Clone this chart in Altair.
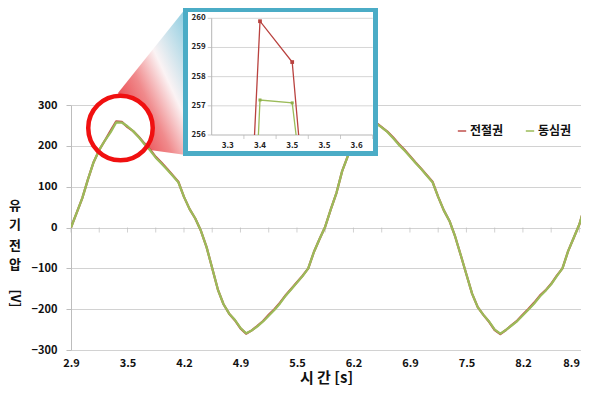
import altair as alt
import pandas as pd

FONT = "Noto Sans CJK KR"

# ---- data -----------------------------------------------------------------
# recording grid: 15 samples per second, first sample at 2.8667 s
t_start = 43 / 15
t_step = 1 / 15

# 동심권 (green) induced voltage [V]
v_green = [0, 36, 72, 118, 160, 190, 213, 233, 257.2, 257.1,
           248, 236, 221, 204, 189, 171, 157, 142, 127, 111,
           75, 45, 22, -8, -48, -100, -152, -188, -211, -226,
           -246, -259, -252, -242, -230, -216, -202, -186, -167, -151,
           -135, -119, -100, -60, -28, 2, 45, 85, 138, 175,
           200, 222, 240, 256, 255, 245, 234, 219, 203, 189,
           174, 158, 143, 127, 111, 75, 42, 16, -22, -68,
           -115, -162, -195, -214, -230, -250, -260, -251, -240, -229,
           -215, -201, -186, -169, -155, -139, -119, -100, -58, -25,
           8, 55, 95]

# 전절권 (red) induced voltage [V]
v_red = [0, 36, 72, 118, 160, 190, 213, 237, 259.9, 258.5,
         246, 236, 222, 206, 191, 173, 159, 144, 128, 112,
         75, 45, 22, -8, -48, -100, -152, -188, -211, -227,
         -247, -260, -252, -241, -229, -214, -200, -184, -166, -150,
         -134, -118, -100, -60, -28, 2, 45, 85, 138, 175,
         200, 222, 240, 258, 256.5, 246, 235, 221, 205, 191,
         175, 159, 144, 128, 112, 75, 42, 16, -22, -68,
         -115, -162, -195, -214, -231, -251, -261, -251, -239, -228,
         -213, -199, -184, -167, -154, -138, -118, -100, -58, -25,
         8, 55, 95]

series_names = ["전절권", "동심권"]
series_colors = ["#C0504D", "#9BBB59"]

y_ticks = [-300, -200, -100, 0, 100, 200, 300]
inset_y_ticks = [256, 257, 258, 259, 260]

n = len(v_green)
time_s = [t_start + k * t_step for k in range(n)]
label_t = time_s[0::10]
tick_t = time_s[0::5]

# inset window: categories 7..11 of the recording, values 256..260 V
inset_cat = time_s[7:12]
inset_lo = inset_cat[0] - t_step / 2
inset_hi = inset_cat[-1] + t_step / 2
inset_floor = 256


def clip_to_floor(t0, v0, t1, v1, floor):
    """Point where segment (t0,v0)-(t1,v1) leaves the inset window bottom."""
    f = (floor - v0) / (v1 - v0)
    return t0 + f * (t1 - t0)


def inset_polyline(v):
    ts = [clip_to_floor(time_s[7], v[7], time_s[8], v[8], inset_floor),
          time_s[8], time_s[9],
          clip_to_floor(time_s[9], v[9], time_s[10], v[10], inset_floor)]
    vs = [inset_floor, v[8], v[9], inset_floor]
    return pd.DataFrame({"ti": ts, "vi": vs})


# callout (circle + wedge) position in data units
circle_t = [t_start + 8.76 * t_step]
circle_v = [243.7]
wedge_t = [t_start + 8.32 * t_step, t_start + 13.98 * t_step, t_start + 20.36 * t_step]
wedge_top = [329.4, 427.3, 537.6]
wedge_bot = [329.4, 189.8, 177.6]

# ---- main chart -----------------------------------------------------------
PLOT_W = 510
xs = alt.Scale(domain=[t_start, t_start + (PLOT_W / 5.649) * t_step],
               nice=False, zero=False, padding=0)
ys = alt.Scale(domain=[-300, 300], nice=False, zero=False, padding=0)

last_label = label_t[-1]
xaxis = alt.Axis(values=label_t, format=".1f", title="시 간 [s]", grid=False,
                 ticks=False, domain=False, labelFlush=False, labelOverlap=False,
                 labelAlign={"expr": f"datum.value > {last_label - 0.01} ? 'right' : 'center'"},
                 labelPadding=7, labelFontSize=11, labelFontWeight="bold",
                 labelColor="#111", labelFont=FONT, titleFont=FONT,
                 titleFontSize=15, titleFontWeight="bold", titlePadding=2,
                 titleColor="#111")
yaxis = alt.Axis(values=y_ticks, title=None, grid=True, gridColor="#D2D2D2",
                 domainColor="#BDBDBD", tickColor="#BDBDBD", tickSize=5,
                 labelPadding=9, labelFontSize=11, labelFontWeight="bold",
                 labelColor="#111", labelFont=FONT)

X = alt.X("t:Q", scale=xs, axis=xaxis)
Y = alt.Y("v:Q", scale=ys, axis=yaxis)

color_scale = alt.Scale(domain=series_names, range=series_colors)
legend = alt.Legend(title=None, orient="none", legendX=385, legendY=20,
                    direction="horizontal", symbolType="stroke", symbolSize=70,
                    symbolStrokeWidth=1.5, labelFontSize=12, labelFontWeight="bold",
                    labelFont=FONT, labelColor="#111", columnPadding=18,
                    labelOffset=2, padding=0)

red_df = pd.DataFrame({"t": time_s, "v": v_red, "series": series_names[0]})
green_df = pd.DataFrame({"t": time_s, "v": v_green, "series": series_names[1]})

grad = alt.Gradient(
    gradient="linear",
    stops=[alt.GradientStop(color="#E5161F", offset=0),
           alt.GradientStop(color="#F08A8C", offset=0.4),
           alt.GradientStop(color="#FBF3F4", offset=0.62),
           alt.GradientStop(color="#86CBE0", offset=1)],
    x1=0, y1=1, x2=1, y2=0)

wedge = alt.Chart(pd.DataFrame({"t": wedge_t, "v": wedge_top, "v2": wedge_bot})).mark_area(
    color=grad, opacity=1).encode(x=X, y=Y, y2="v2:Q")

disk = alt.Chart(pd.DataFrame({"t": circle_t, "v": circle_v})).mark_point(
    shape="circle", filled=True, color="white", size=4160, opacity=1).encode(x=X, y=Y)

ring = alt.Chart(pd.DataFrame({"t": circle_t, "v": circle_v})).mark_point(
    shape="circle", filled=False, color="#F01010", size=4160, strokeWidth=4.5,
    opacity=1).encode(x=X, y=Y)

zticks = alt.Chart(pd.DataFrame({"t": tick_t})).mark_tick(
    orient="vertical", size=5, thickness=1, color="#BDBDBD", yOffset=2.5).encode(
    x=X, y=alt.Y(datum=0, scale=ys, axis=yaxis))

line_kw = dict(strokeWidth=2.25, strokeJoin="round", clip=True)
red_line = alt.Chart(red_df).mark_line(**line_kw).encode(
    x=X, y=Y, color=alt.Color("series:N", scale=color_scale, legend=legend))
green_line = alt.Chart(green_df).mark_line(**line_kw).encode(
    x=X, y=Y, color=alt.Color("series:N", scale=color_scale, legend=legend))

one = pd.DataFrame({"a": [0]})
# y-axis title, stacked vertically: characters upright, "[V]" turned
ytitle_parts = [("유", -56, 101.0, 13, 0), ("기", -56, 120.0, 13, 0),
                ("전", -56, 141.0, 13, 0), ("압", -56, 160.0, 13, 0),
                ("[V]", -56, 193.5, 13, 90)]
ytitle_layers = [
    alt.Chart(one).mark_text(text=s, font=FONT, fontSize=fs, fontWeight="bold",
                             color="#111", align="center", baseline="middle",
                             angle=ang).encode(x=alt.value(px), y=alt.value(py))
    for s, px, py, fs, ang in ytitle_parts
]

main = alt.layer(wedge, disk, zticks, red_line, green_line, ring, *ytitle_layers)

# ---- inset ------------------------------------------------------------------
ixs = alt.Scale(domain=[inset_lo, inset_hi], range=[140.7, 301.7], nice=False, zero=False)
iys = alt.Scale(domain=[256, 260], range=[30, -86.7], nice=False, zero=False)
IX = alt.X("ti:Q", scale=ixs, axis=None)
IY = alt.Y("vi:Q", scale=iys, axis=None)
IXlo = alt.X(datum=inset_lo, scale=ixs, axis=None)
IXhi = alt.X2(datum=inset_hi)
IYlo = alt.Y(datum=256, scale=iys, axis=None)

frame = alt.Chart(one).mark_rect(fill="white", stroke="#4BACC6", strokeWidth=5).encode(
    x=alt.value(114.5), x2=alt.value(304.5), y=alt.value(-95.5), y2=alt.value(48.5))

igrid = alt.Chart(pd.DataFrame({"vi": inset_y_ticks[1:]})).mark_rule(
    color="#D6D6D6", strokeWidth=1).encode(x=IXlo, x2=IXhi, y=IY)
ixaxis = alt.Chart(one).mark_rule(color="#B5B5B5", strokeWidth=1).encode(
    x=IXlo, x2=IXhi, y=IYlo)
iyaxis = alt.Chart(one).mark_rule(color="#B5B5B5", strokeWidth=1).encode(
    x=IXlo, y=IYlo, y2=alt.Y2(datum=260))
boundaries = [inset_lo + k * t_step for k in range(1, 6)]
ixticks = alt.Chart(pd.DataFrame({"ti": boundaries})).mark_tick(
    orient="vertical", size=4, thickness=1, color="#B5B5B5", yOffset=2).encode(
    x=IX, y=IYlo)
iyticks = alt.Chart(pd.DataFrame({"vi": inset_y_ticks})).mark_tick(
    orient="horizontal", size=4, thickness=1, color="#B5B5B5", xOffset=-2).encode(
    x=IXlo, y=IY)
iylabels = alt.Chart(pd.DataFrame({"vi": inset_y_ticks})).mark_text(
    font=FONT, fontSize=8, fontWeight="bold", color="#222", align="right",
    baseline="middle", dx=-6).encode(x=IXlo, y=IY, text=alt.Text("vi:Q", format="d"))
ixlabels = alt.Chart(pd.DataFrame({"ti": inset_cat})).mark_text(
    font=FONT, fontSize=8, fontWeight="bold", color="#222", align="center",
    baseline="middle", dy=11).encode(x=IX, y=IYlo, text=alt.Text("ti:Q", format=".1f"))

ired = alt.Chart(inset_polyline(v_red)).mark_line(color="#B9423F", strokeWidth=1.3).encode(
    x=IX, y=IY)
igreen = alt.Chart(inset_polyline(v_green)).mark_line(color="#9BBB59", strokeWidth=1.3).encode(
    x=IX, y=IY)
ired_pts = alt.Chart(pd.DataFrame({"ti": time_s[8:10], "vi": v_red[8:10]})).mark_point(
    shape="square", filled=True, size=14, color="#B9423F", opacity=1).encode(x=IX, y=IY)
igreen_pts = alt.Chart(pd.DataFrame({"ti": time_s[8:10], "vi": v_green[8:10]})).mark_point(
    shape="square", filled=True, size=9, color="#8FB04A", opacity=1).encode(x=IX, y=IY)

inset = alt.layer(frame, igrid, ixaxis, iyaxis, ixticks, iyticks, iylabels, ixlabels,
                  ired, igreen, ired_pts, igreen_pts)

chart = alt.layer(main, inset).resolve_scale(x="independent", y="independent").properties(
    width=PLOT_W, height=245, autosize="none",
    padding={"left": 63, "top": 97, "right": 0, "bottom": 35},
    background="white",
).configure_view(stroke=None)

chart.save("out.html", embed_options={"renderer": "svg", "actions": False})
